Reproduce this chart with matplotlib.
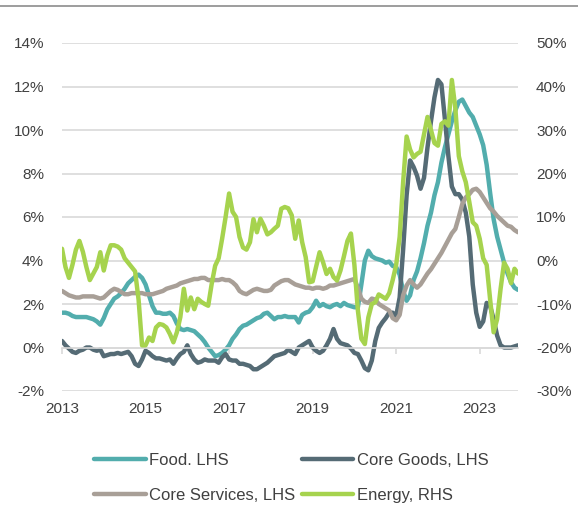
import matplotlib
matplotlib.use("Agg")
import matplotlib.pyplot as plt
from matplotlib.lines import Line2D
import numpy as np

# monthly values, Jan 2013 - Dec 2023
start_year = 2013
food = [1.6, 1.6, 1.55, 1.45, 1.4, 1.4, 1.4, 1.4, 1.35, 1.3, 1.2, 1.05,
        1.35, 1.75, 2.0, 2.25, 2.35, 2.5, 2.7, 2.95, 3.1, 3.25, 3.35, 3.2,
        2.9, 2.4, 1.9, 1.6, 1.6, 1.55, 1.55, 1.6, 1.45, 1.1, 0.85, 0.8,
        0.85, 0.8, 0.75, 0.6, 0.45, 0.25, 0.0, -0.2, -0.4, -0.35, -0.25, -0.1,
        0.1, 0.4, 0.6, 0.85, 1.0, 1.05, 1.15, 1.25, 1.35, 1.4, 1.55, 1.6,
        1.45, 1.3, 1.4, 1.4, 1.45, 1.4, 1.4, 1.4, 1.15, 1.5, 1.6, 1.65,
        1.85, 2.15, 1.9, 2.0, 1.9, 1.85, 1.95, 2.0, 1.9, 2.05, 1.95, 1.9,
        1.85, 1.85, 2.9, 4.0, 4.45, 4.2, 4.1, 4.05, 4.0, 3.9, 3.95, 3.75,
        3.7, 3.35, 2.6, 2.15, 2.4, 3.1, 3.5, 4.1, 4.8, 5.6, 6.2, 7.0,
        7.6, 8.5, 9.2, 9.8, 10.4, 10.9, 11.3, 11.4, 11.1, 10.8, 10.6, 10.2,
        9.8, 9.3, 8.4, 7.1, 5.9, 5.1, 4.5, 3.9, 3.4, 3.0, 2.75, 2.65]
core_goods = [0.3, 0.1, -0.05, -0.2, -0.25, -0.15, -0.1, 0.0, 0.0, -0.1, -0.15, -0.1,
              -0.4, -0.35, -0.3, -0.3, -0.25, -0.3, -0.25, -0.2, -0.4, -0.75, -0.85, -0.55,
              -0.15, -0.25, -0.4, -0.5, -0.5, -0.55, -0.6, -0.55, -0.75, -0.5, -0.3, -0.2,
              0.1, -0.3, -0.55, -0.7, -0.65, -0.55, -0.6, -0.6, -0.6, -0.7, -0.45, -0.3,
              -0.55, -0.6, -0.6, -0.75, -0.75, -0.8, -0.85, -1.0, -1.0, -0.9, -0.8, -0.7,
              -0.55, -0.4, -0.35, -0.3, -0.25, -0.1, -0.2, -0.3, 0.0, 0.1, 0.2, 0.3,
              0.0, -0.15, -0.25, -0.15, 0.1, 0.4, 0.85, 0.4, 0.2, 0.15, 0.1, -0.05,
              -0.25, -0.3, -0.6, -0.95, -1.05, -0.6, 0.3, 0.9, 1.15, 1.35, 1.6, 1.6,
              1.45, 2.3, 4.5, 7.0, 8.6, 8.3, 7.9, 7.3, 7.8, 9.2, 10.4, 11.5,
              12.3, 12.1, 10.5, 8.8, 7.4, 7.05, 7.05, 6.8, 6.2, 5.1, 2.9, 1.6,
              0.95, 1.2, 2.05, 1.9, 1.3, 0.55, 0.1, 0.0, 0.0, 0.0, 0.05, 0.1]
core_services = [2.6, 2.5, 2.4, 2.35, 2.3, 2.3, 2.35, 2.35, 2.35, 2.35, 2.3, 2.25,
                 2.3, 2.45, 2.6, 2.7, 2.65, 2.55, 2.45, 2.45, 2.5, 2.5, 2.5, 2.5,
                 2.45, 2.45, 2.45, 2.5, 2.55, 2.6, 2.7, 2.75, 2.8, 2.85, 2.95, 3.0,
                 3.05, 3.1, 3.15, 3.15, 3.2, 3.2, 3.1, 3.1, 3.1, 3.1, 3.15, 3.1,
                 3.1, 3.0, 2.85, 2.6, 2.5, 2.45, 2.55, 2.65, 2.7, 2.65, 2.6, 2.6,
                 2.65, 2.85, 2.95, 3.05, 3.1, 3.1, 3.0, 2.9, 2.85, 2.8, 2.75, 2.75,
                 2.7, 2.75, 2.75, 2.7, 2.75, 2.85, 2.85, 2.9, 2.95, 3.0, 3.05, 3.1,
                 3.15, 2.75, 2.25, 2.1, 2.05, 2.25, 2.2, 2.0, 1.9, 1.8, 1.7, 1.35,
                 1.25, 1.5, 2.4, 2.85, 3.1, 2.9, 2.75, 2.9, 3.15, 3.4, 3.6, 3.85,
                 4.1, 4.35, 4.65, 4.95, 5.25, 5.45, 6.0, 6.6, 6.9, 7.05, 7.25, 7.3,
                 7.15, 6.9, 6.65, 6.4, 6.25, 6.05, 5.9, 5.75, 5.6, 5.55, 5.4, 5.3]
energy = [2.7, -1.5, -4.0, -1.0, 2.5, 4.5, 2.0, -1.5, -4.5, -3.0, -1.5, 1.9,
          -2.3, 1.2, 3.5, 3.5, 3.2, 2.5, 0.5, -0.5, -1.5, -2.5, -9.0, -19.5,
          -19.5, -17.7, -18.5, -15.4, -14.6, -14.8, -15.4, -16.9, -18.8, -16.5, -13.0, -6.5,
          -11.5, -8.5, -11.2, -8.8, -9.5, -10.0, -10.4, -5.4, -1.2, 0.5, 5.0, 10.0,
          15.4, 11.2, 10.0, 5.4, 3.0, 2.5, 4.2, 9.5, 6.5, 9.6, 8.0, 6.0,
          6.5, 7.3, 8.0, 11.9, 12.3, 12.0, 10.4, 5.0, 9.2, 4.2, 0.8, -5.0,
          -4.8, -1.5, 1.9, -0.4, -3.1, -1.9, -3.8, -4.6, -2.3, 1.0, 4.5, 6.2,
          -1.0, -11.5, -18.0, -19.2, -13.1, -10.0, -9.6, -7.8, -8.3, -8.8, -7.5, -4.5,
          -1.0, 5.4, 18.0, 28.5, 25.5, 23.7, 24.5, 25.0, 29.0, 33.0, 30.0, 27.0,
          26.4, 31.4, 32.0, 31.0, 41.5, 35.0, 24.0, 20.5, 18.0, 13.5, 8.8, 8.0,
          5.0, 0.5, -1.0, -9.0, -16.5, -13.5, -6.5, -0.5, -1.9, -5.2, -1.9, -3.0]

labels = ['Food. LHS', 'Core Goods, LHS', 'Core Services, LHS', 'Energy, RHS']
colors = ['#52adad', '#556b75', '#a89f97', '#a6d34e']
year_ticks = [2013, 2015, 2017, 2019, 2021, 2023]
left_ticks = list(range(-2, 15, 2))
right_ticks = list(range(-30, 51, 10))

plt.rcParams['font.family'] = ['Liberation Sans', 'DejaVu Sans']
txt = '#404040'
grid_c = '#d9d9d9'

t = start_year + np.arange(len(food)) / 12

fig = plt.figure(figsize=(5.78, 5.08), dpi=100)
ax = fig.add_axes([62 / 578, 1 - 391 / 508, 456 / 578, 348 / 508])
ax2 = ax.twinx()

kw = dict(lw=3.2, solid_capstyle='round', solid_joinstyle='round')
l1, = ax.plot(t, food, color=colors[0], label=labels[0], **kw)
l2, = ax.plot(t, core_goods, color=colors[1], label=labels[1], **kw)
l3, = ax.plot(t, core_services, color=colors[2], label=labels[2], **kw)
l4, = ax2.plot(t, energy, color=colors[3], label=labels[3], **kw)

ax.set_xlim(t[0], t[-1])
ax.set_ylim(-2, 14)
ax2.set_ylim(-30, 50)
ax.set_yticks(left_ticks, [f'{v}%' for v in left_ticks])
ax2.set_yticks(right_ticks, [f'{v}%' for v in right_ticks])
ax.yaxis.grid(True, color=grid_c, lw=1.2)
ax.set_axisbelow(True)

for a in (ax, ax2):
    for s in ('top', 'right', 'left'):
        a.spines[s].set_visible(False)
ax2.spines['bottom'].set_visible(False)
ax.spines['bottom'].set_position(('data', 0))
ax.spines['bottom'].set_color(grid_c)
ax.spines['bottom'].set_linewidth(1.2)

ax.set_xticks(year_ticks)
ax.tick_params(axis='x', length=4, width=1.2, color=grid_c, labelbottom=False)
ax.tick_params(axis='y', length=0, pad=13, labelsize=11, labelcolor=txt)
ax2.tick_params(axis='y', length=0, pad=13, labelsize=11, labelcolor=txt)

sec = ax.secondary_xaxis('bottom')
sec.set_xticks(year_ticks, [str(y) for y in year_ticks])
sec.tick_params(length=0, pad=8, labelsize=11, labelcolor=txt)
sec.spines['bottom'].set_visible(False)

fig.legend([l1, l3, l2, l4], [labels[0], labels[2], labels[1], labels[3]],
           ncol=2, loc='upper left', bbox_to_anchor=(94 / 578, 1 - 453 / 508),
           frameon=False, fontsize=12, labelcolor=txt, handlelength=3.1,
           handletextpad=0.2, columnspacing=0.4, labelspacing=1.2,
           borderpad=0, borderaxespad=0)

fig.add_artist(Line2D([0, 1], [1 - 5.5 / 508] * 2, color='#8c8c8c', lw=1.2,
                      transform=fig.transFigure))

fig.savefig('out.png', dpi=100)
